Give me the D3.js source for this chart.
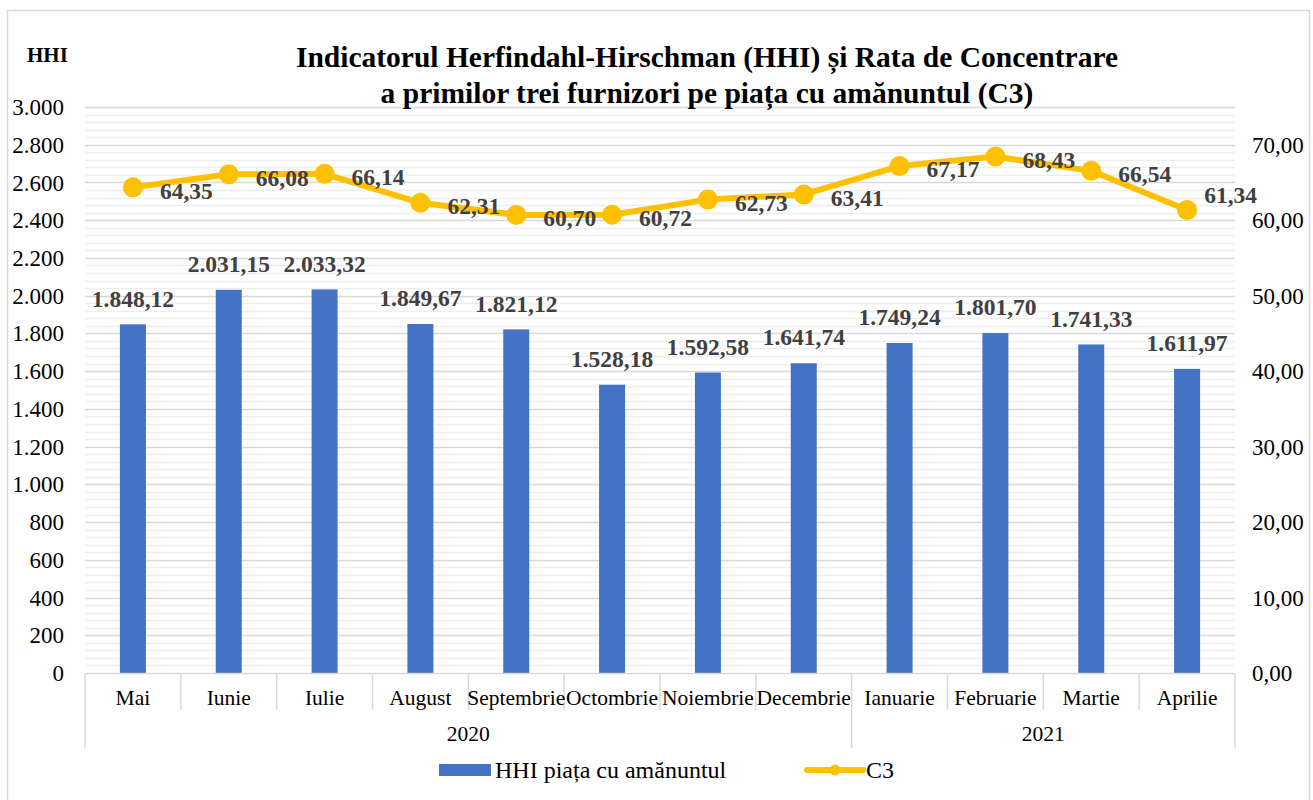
<!DOCTYPE html>
<html><head><meta charset="utf-8">
<script src="https://cdn.jsdelivr.net/npm/d3@7"></script>
<style>body{margin:0;background:#fff}svg{display:block}text{font-family:"Liberation Serif","Times New Roman",serif}</style>
</head><body><svg id="c" width="1313" height="800"></svg>
<script>
const months = ["Mai","Iunie","Iulie","August","Septembrie","Octombrie","Noiembrie","Decembrie","Ianuarie","Februarie","Martie","Aprilie"];
const yearOf = ["2020","2020","2020","2020","2020","2020","2020","2020","2021","2021","2021","2021"];
const hhi = [1848.12,2031.15,2033.32,1849.67,1821.12,1528.18,1592.58,1641.74,1749.24,1801.70,1741.33,1611.97];
const c3 = [64.35,66.08,66.14,62.31,60.70,60.72,62.73,63.41,67.17,68.43,66.54,61.34];
const leftTicks = [0,200,400,600,800,1000,1200,1400,1600,1800,2000,2200,2400,2600,2800,3000];
const rightTicks = [0,10,20,30,40,50,60,70];
const titleLines = ["Indicatorul Herfindahl-Hirschman (HHI) și Rata de Concentrare","a primilor trei furnizori pe piața cu amănuntul (C3)"];
const legendLabels = ["HHI piața cu amănuntul","C3"];

const loc = d3.formatLocale({decimal:",",thousands:".",grouping:[3],currency:["",""]});
const f0 = loc.format(",.0f"), f2 = loc.format(",.2f");

const svg = d3.select("#c");
const L=85,R=1235,T=107,B=673;
const x = d3.scaleBand().domain(months).range([L,R]).paddingInner(0).paddingOuter(0);
const yL = d3.scaleLinear().domain([0,3000]).range([B,T]);
const yR = d3.scaleLinear().domain([0,75]).range([B,T]);
const cx = i => x(months[i])+x.bandwidth()/2;

// border
svg.append("rect").attr("x",7.5).attr("y",10.5).attr("width",1302).attr("height",800).attr("fill","#fff").attr("stroke","#D9D9D9").attr("stroke-width",1.5);

// gridlines
const minor = d3.range(0,3001,40).filter(v=>v%200!==0);
svg.append("g").selectAll("line").data(minor).join("line")
  .attr("x1",L).attr("x2",R).attr("y1",d=>Math.round(yL(d))+0.5).attr("y2",d=>Math.round(yL(d))+0.5)
  .attr("stroke","#EEEEEE").attr("stroke-width",1.5);
svg.append("g").selectAll("line").data(leftTicks.filter(v=>v>0)).join("line")
  .attr("x1",L).attr("x2",R).attr("y1",d=>Math.round(yL(d))+0.5).attr("y2",d=>Math.round(yL(d))+0.5)
  .attr("stroke","#D9D9D9").attr("stroke-width",1.5);

// left axis labels
svg.append("g").selectAll("text").data(leftTicks).join("text")
  .attr("x",64).attr("y",d=>yL(d)).attr("dy","0.35em").attr("text-anchor","end")
  .attr("font-size",23).attr("fill","#000").text(d=>f0(d));
// right axis labels
svg.append("g").selectAll("text").data(rightTicks).join("text")
  .attr("x",1252).attr("y",d=>yR(d)).attr("dy","0.35em").attr("text-anchor","start")
  .attr("font-size",23).attr("fill","#000").text(d=>f2(d));

// bars
const bw = 26;
svg.append("g").selectAll("rect").data(hhi).join("rect")
  .attr("x",(d,i)=>cx(i)-bw/2).attr("width",bw)
  .attr("y",d=>yL(d)).attr("height",d=>B-yL(d)).attr("fill","#4472C4");

// category axis
const ax = svg.append("g").attr("stroke","#D9D9D9").attr("stroke-width",1.5);
ax.append("line").attr("x1",L).attr("x2",R).attr("y1",B+0.5).attr("y2",B+0.5);
const bounds = d3.range(0,months.length+1);
ax.selectAll("line.sep").data(bounds).join("line").attr("class","sep")
  .attr("x1",i=>i<months.length?x(months[i]):R).attr("x2",i=>i<months.length?x(months[i]):R)
  .attr("y1",B).attr("y2",i=>(i===0||i===months.length||yearOf[i]!==yearOf[i-1])?748:710);
svg.append("g").selectAll("text").data(months).join("text")
  .attr("x",d=>x(d)+x.bandwidth()/2).attr("y",697).attr("dy","0.35em").attr("text-anchor","middle")
  .attr("font-size",21.5).attr("fill","#000").text(d=>d);
const years = Array.from(new Set(yearOf));
svg.append("g").selectAll("text").data(years).join("text")
  .attr("x",yr=>{const idx=yearOf.map((v,i)=>v===yr?i:-1).filter(i=>i>=0);return (x(months[idx[0]])+x(months[idx[idx.length-1]])+x.bandwidth())/2;})
  .attr("y",733).attr("dy","0.35em").attr("text-anchor","middle").attr("font-size",21.5).attr("fill","#000").text(d=>d);

// line
const line = d3.line().x((d,i)=>cx(i)).y(d=>yR(d));
svg.append("path").datum(c3).attr("d",line).attr("fill","none").attr("stroke","#FFC000").attr("stroke-width",6).attr("stroke-linejoin","round");
svg.append("g").selectAll("circle").data(c3).join("circle")
  .attr("cx",(d,i)=>cx(i)).attr("cy",d=>yR(d)).attr("r",10).attr("fill","#FFC000");

// bar labels
svg.append("g").selectAll("text").data(hhi).join("text")
  .attr("x",(d,i)=>cx(i)).attr("y",d=>yL(d)-26).attr("dy","0.35em")
  .attr("text-anchor","middle").attr("font-size",23.5).attr("font-weight","bold").attr("fill","#404040").text(d=>f2(d));
// line labels (to the right of points; kept inside the chart at the right edge)
svg.append("g").selectAll("text").data(c3).join("text")
  .attr("x",(d,i)=>cx(i)+27).attr("y",d=>yR(d)+3).attr("dy","0.35em")
  .attr("text-anchor","start").attr("font-size",23.5).attr("font-weight","bold").attr("fill","#404040").text(d=>f2(d))
  .each(function(d,i){
    const w=this.getComputedTextLength();
    const maxRight=1257;
    if(cx(i)+27+w>maxRight){ d3.select(this).attr("x",maxRight-w).attr("y",yR(d)-15); }
  });

// titles
svg.append("text").attr("x",27).attr("y",62).attr("font-size",21).attr("font-weight","bold").text("HHI");
svg.append("g").selectAll("text").data(titleLines).join("text")
  .attr("x",707).attr("y",(d,i)=>67+i*36).attr("text-anchor","middle").attr("font-size",29.5).attr("font-weight","bold").attr("fill","#000").text(d=>d);

// legend
const lg = svg.append("g");
lg.append("rect").attr("x",439).attr("y",764).attr("width",52).attr("height",12).attr("fill","#4472C4");
lg.append("text").attr("x",495).attr("y",770).attr("dy","0.35em").attr("font-size",24).text(legendLabels[0]);
lg.append("line").attr("x1",807).attr("x2",863).attr("y1",770).attr("y2",770).attr("stroke","#FFC000").attr("stroke-width",6).attr("stroke-linecap","round");
lg.append("circle").attr("cx",835).attr("cy",770).attr("r",5.5).attr("fill","#FFC000");
lg.append("text").attr("x",866).attr("y",770).attr("dy","0.35em").attr("font-size",24).text(legendLabels[1]);
</script></body></html>
